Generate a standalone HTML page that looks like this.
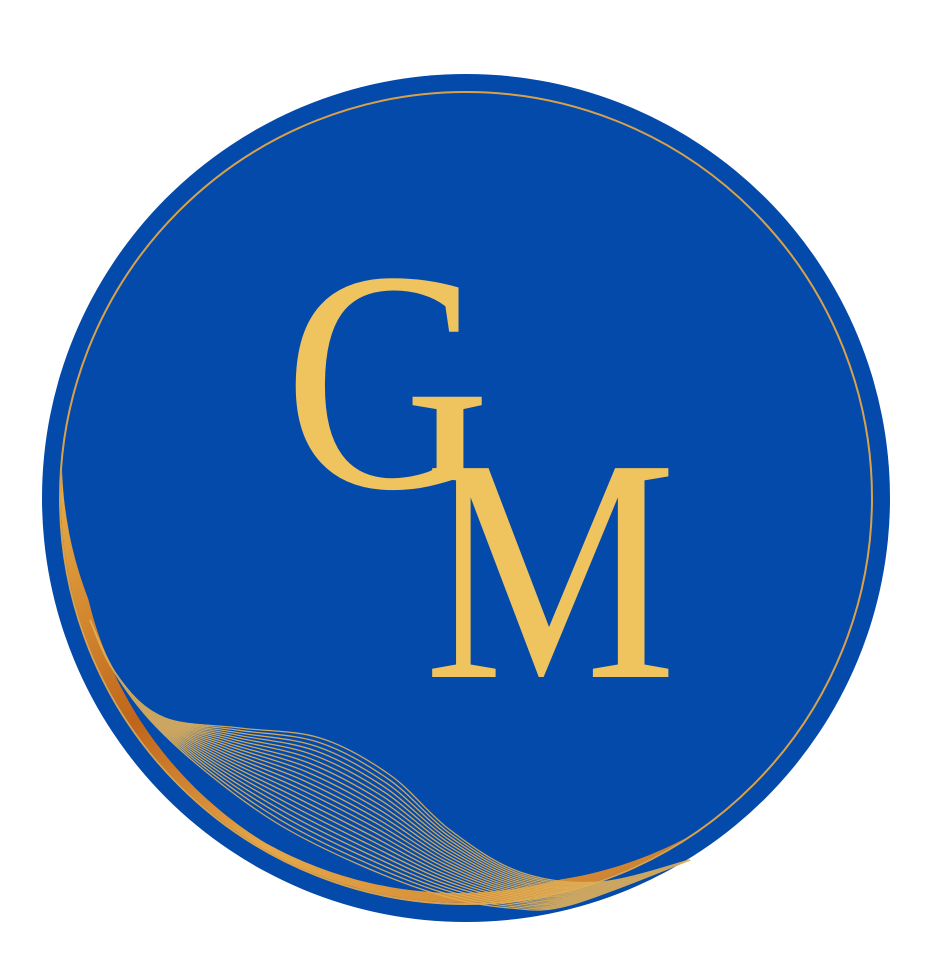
<!DOCTYPE html>
<html><head><meta charset="utf-8"><style>
html,body{margin:0;padding:0;background:#fff;width:947px;height:980px;overflow:hidden}
svg{display:block}
</style></head><body>
<svg width="947" height="980" viewBox="0 0 947 980" xmlns="http://www.w3.org/2000/svg">
<defs>
<linearGradient id="gold" x1="0" y1="0" x2="1" y2="1">
<stop offset="0" stop-color="#e9b04a"/><stop offset="0.35" stop-color="#c0651a"/><stop offset="0.6" stop-color="#e6a84a"/><stop offset="1" stop-color="#c87a2a"/>
</linearGradient>
</defs>
<circle cx="466" cy="498" r="424" fill="#034aab"/>
<circle cx="466" cy="498" r="406" fill="none" stroke="#d9a24a" stroke-width="2"/>
<path id="band" fill="url(#gold)"/>
<g id="waves" fill="none" stroke="#e0b05a" stroke-width="1.3" opacity="0.9"></g>
<text transform="translate(284,487) scale(0.98,1.08)" font-family="Liberation Serif, serif" font-size="292" fill="#efc45e">G</text>
<text transform="translate(424,677) scale(0.98,1.1)" font-family="Liberation Serif, serif" font-size="290" fill="#efc45e">M</text>
</svg>
<script>
var NS='http://www.w3.org/2000/svg';
// band along ring
var cx=466,cy=498,R=405,outer=[],inner=[];
for(var a=184;a>=57;a-=1){
  var t=(184-a)/127, w;
  if(t<0.15) w=14*t/0.15; else if(t<0.5) w=14-8*(t-0.15)/0.35; else if(t<0.85) w=6+6*(t-0.5)/0.35; else w=12*(1-t)/0.15;
  var r=a*Math.PI/180;
  outer.push([cx+R*Math.cos(r),cy+R*Math.sin(r)]);
  inner.unshift([cx+(R-w)*Math.cos(r),cy+(R-w)*Math.sin(r)]);
}
document.getElementById('band').setAttribute('d','M'+outer.concat(inner).map(function(p){return p[0].toFixed(1)+' '+p[1].toFixed(1)}).join(' L')+' Z');
function cr(p){var d='M'+p[0][0]+' '+p[0][1];
  for(var i=0;i<p.length-1;i++){var p0=p[i-1]||p[i],p1=p[i],p2=p[i+1],p3=p[i+2]||p2;
    d+=' C'+(p1[0]+(p2[0]-p0[0])/6).toFixed(1)+' '+(p1[1]+(p2[1]-p0[1])/6).toFixed(1)+' '+(p2[0]-(p3[0]-p1[0])/6).toFixed(1)+' '+(p2[1]-(p3[1]-p1[1])/6).toFixed(1)+' '+p2[0].toFixed(1)+' '+p2[1].toFixed(1);}
  return d;}
var g=document.getElementById('waves');
var top_=[[90,620],[120,680],[165,718],[240,728],[320,738],[390,775],[450,830],[520,872],[600,882],[690,860]];
var bot_=[[90,620],[110,665],[150,720],[210,775],[280,825],[360,865],[440,895],[510,908],[570,905],[690,860]];
for(var i=0;i<22;i++){
  var t=i/21,p=[];
  for(var k=0;k<top_.length;k++)p.push([top_[k][0]+(bot_[k][0]-top_[k][0])*t,top_[k][1]+(bot_[k][1]-top_[k][1])*t]);
  var el=document.createElementNS(NS,'path');
  el.setAttribute('d',cr(p));
  
  
  g.appendChild(el);
}
</script>
</body></html>
